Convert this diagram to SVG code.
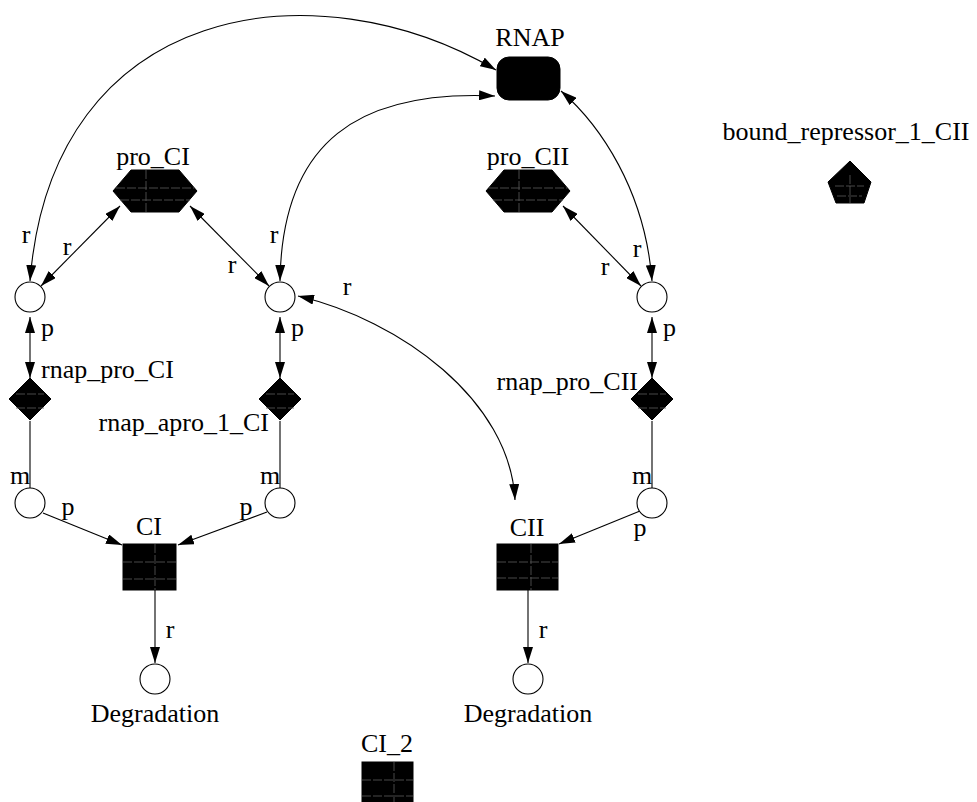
<svg xmlns="http://www.w3.org/2000/svg" width="977" height="802" viewBox="0 0 977 802" font-family="'Liberation Serif', 'DejaVu Serif', 'Times New Roman', serif">
  <style>
    text { font-family: 'Liberation Serif', 'DejaVu Serif', 'Times New Roman', serif; font-size: 26px; fill: #000; }
    .mid { text-anchor: middle; }
    .end { text-anchor: end; }
    .place { fill: #fff; stroke: #000; stroke-width: 1.1; }
    .solid { fill: #000; stroke: #000; stroke-width: 1; }
    .grid { fill: none; stroke: #5a5a5a; stroke-width: 0.8; stroke-dasharray: 9 2; }
    .arc { fill: none; stroke: #000; stroke-width: 1.1; }
    .both { marker-start: url(#ah); marker-end: url(#ah); }
    .one { marker-end: url(#ah); }
  </style>
  <defs>
    <marker id="ah" viewBox="0 0 16 10" refX="16" refY="5" markerWidth="16" markerHeight="10" markerUnits="userSpaceOnUse" orient="auto-start-reverse">
      <path d="M0,0 L16,5 L0,10 z" fill="#000"/>
    </marker>
  </defs>
  <rect width="977" height="802" fill="#fff"/>

  <!-- connectors -->
  <g id="connectors">
    <path class="arc both" d="M30,281 C52,0 317,-35 496,70"/>
    <path class="arc both" d="M280,281 C282,140 360,90 495,96"/>
    <path class="arc both" d="M561,91 C600,125 645,190 652,281"/>
    <path class="arc both" d="M120,206 L41,286"/>
    <path class="arc both" d="M190,206 L269,286"/>
    <path class="arc both" d="M563,206 L641,286"/>
    <path class="arc both" d="M298,296 C400,320 510,400 515,500"/>
    <path class="arc both" d="M30,317 L30,378"/>
    <path class="arc both" d="M280,317 L280,378"/>
    <path class="arc both" d="M652,317 L652,378"/>
    <path class="arc" d="M30,421 L30,488"/>
    <path class="arc" d="M280,421 L280,488"/>
    <path class="arc" d="M652,421 L652,488"/>
    <path class="arc one" d="M43,513 L122,545"/>
    <path class="arc one" d="M267,512 L178,545"/>
    <path class="arc one" d="M640,511 L559,544"/>
    <path class="arc one" d="M155,590 L155,663"/>
    <path class="arc one" d="M528,590 L528,663"/>
    <!-- arc labels -->
    <text x="26" y="243" class="mid">r</text>
    <text x="67" y="255" class="mid">r</text>
    <text x="232" y="273" class="mid">r</text>
    <text x="274" y="243" class="mid">r</text>
    <text x="347" y="295" class="mid">r</text>
    <text x="605" y="275" class="mid">r</text>
    <text x="637" y="257" class="mid">r</text>
    <text x="41" y="336">p</text>
    <text x="291" y="336">p</text>
    <text x="663" y="336">p</text>
    <text x="20" y="484" class="mid">m</text>
    <text x="270" y="484" class="mid">m</text>
    <text x="642" y="484" class="mid">m</text>
    <text x="68" y="515" class="mid">p</text>
    <text x="246" y="515" class="mid">p</text>
    <text x="640" y="536" class="mid">p</text>
    <text x="170" y="638" class="mid">r</text>
    <text x="543" y="638" class="mid">r</text>
  </g>

  <!-- species and places -->
  <g id="RNAP">
    <rect x="497" y="57" width="63" height="43" rx="12" class="solid"/>
    <text x="530" y="46" class="mid">RNAP</text>
  </g>
  <g id="pro_CI">
    <polygon points="113,191 131,170 179,170 197,191 179,212 131,212" class="solid"/>
    <path class="grid" d="M146,170 V212 M116,188 H194 M120,200 H190"/>
    <text x="153" y="165" class="mid">pro_CI</text>
  </g>
  <g id="pro_CII">
    <polygon points="486,191 504,170 552,170 570,191 552,212 504,212" class="solid"/>
    <path class="grid" d="M519,170 V212 M489,188 H567 M493,200 H563"/>
    <text x="528" y="165" class="mid">pro_CII</text>
  </g>
  <g id="bound_repressor_1_CII">
    <polygon points="850,161 871,182 864,203 836,203 828,182" class="solid"/>
    <path class="grid" d="M835,186 H864 M837,196 H862 M850,175 V203"/>
    <text x="846" y="140" class="mid">bound_repressor_1_CII</text>
  </g>

  <g id="place_r1"><circle cx="30" cy="297" r="15" class="place"/></g>
  <g id="place_r2"><circle cx="280" cy="297" r="15" class="place"/></g>
  <g id="place_r3"><circle cx="652" cy="297" r="15" class="place"/></g>

  <g id="rnap_pro_CI">
    <polygon points="30,378 51,399 30,420 9,399" class="solid"/>
    <path class="grid" d="M16,394 H44 M16,408 H44"/>
    <text x="41" y="378">rnap_pro_CI</text>
  </g>
  <g id="rnap_apro_1_CI">
    <polygon points="280,378 301,399 280,420 259,399" class="solid"/>
    <path class="grid" d="M266,394 H294 M266,408 H294"/>
    <text x="269" y="431" class="end">rnap_apro_1_CI</text>
  </g>
  <g id="rnap_pro_CII">
    <polygon points="652,378 673,399 652,420 631,399" class="solid"/>
    <path class="grid" d="M638,394 H666 M638,408 H666"/>
    <text x="638" y="390" class="end">rnap_pro_CII</text>
  </g>

  <g id="place_m1"><circle cx="30" cy="503" r="15" class="place"/></g>
  <g id="place_m2"><circle cx="280" cy="503" r="15" class="place"/></g>
  <g id="place_m3"><circle cx="652" cy="503" r="15" class="place"/></g>

  <g id="CI">
    <rect x="123" y="544" width="53" height="46" class="solid"/>
    <path class="grid" d="M155,544 V590 M123,562 H176 M123,579 H176"/>
    <text x="149" y="535" class="mid">CI</text>
  </g>
  <g id="CII">
    <rect x="497" y="544" width="61" height="46" class="solid"/>
    <path class="grid" d="M531,544 V590 M497,562 H558 M497,578 H558"/>
    <text x="527" y="536" class="mid">CII</text>
  </g>
  <g id="CI_2">
    <rect x="362" y="762" width="51" height="46" class="solid"/>
    <path class="grid" d="M394,762 V802 M362,780 H413 M362,796 H413"/>
    <text x="387" y="752" class="mid">CI_2</text>
  </g>

  <g id="Degradation_CI">
    <circle cx="155" cy="679" r="15" class="place"/>
    <text x="155" y="722" class="mid">Degradation</text>
  </g>
  <g id="Degradation_CII">
    <circle cx="528" cy="679" r="15" class="place"/>
    <text x="528" y="722" class="mid">Degradation</text>
  </g>
</svg>
